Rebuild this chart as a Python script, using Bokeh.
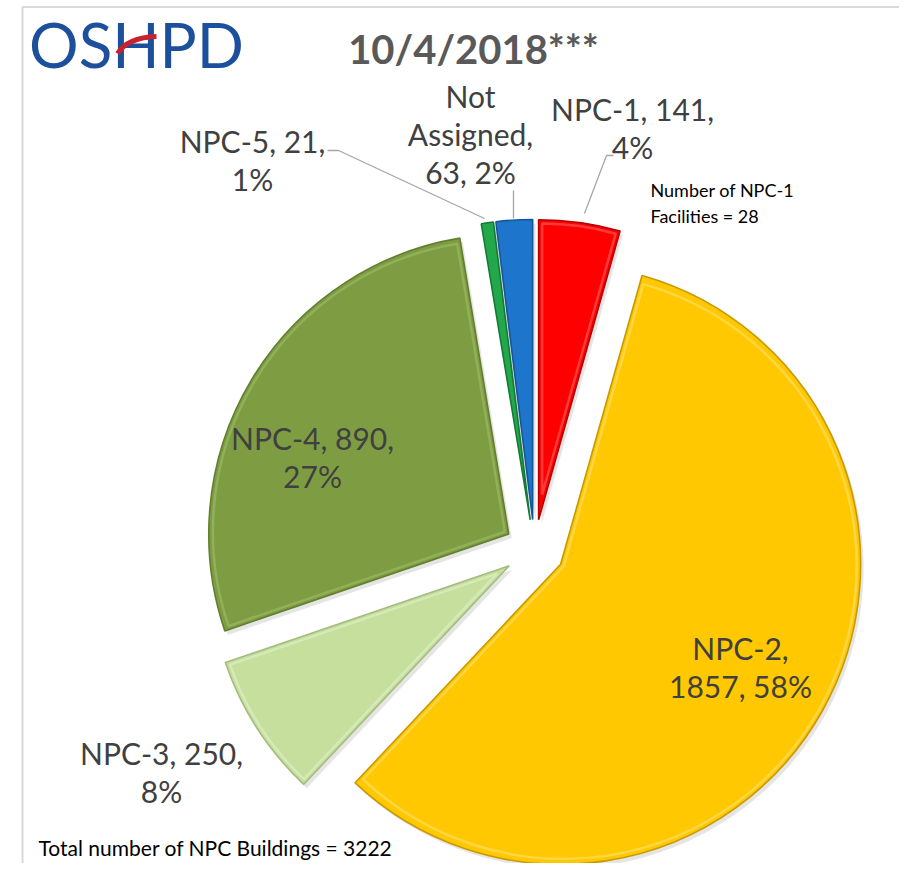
import numpy as np
from bokeh.plotting import figure
from bokeh.models import Range1d
from bokeh.core.properties import value
from bokeh.embed import file_html
from bokeh.resources import INLINE

# ---------------- data ----------------
categories = ["NPC-1", "NPC-2", "NPC-3", "NPC-4", "NPC-5", "Not Assigned"]
counts = [141, 1857, 250, 890, 21, 63]
percent_labels = ["4%", "58%", "8%", "27%", "1%", "2%"]
title_text = "10/4/2018***"
logo_text = "OSHPD"
total_note = "Total number of NPC Buildings = 3222"
npc1_note = ["Number of NPC-1", "Facilities = 28"]

# ---------------- styles ----------------
colors = ["#FF0000", "#FFC800", "#C6DF9D", "#7E9D43", "#22A84A", "#1D76CC"]
edge_colors = ["#B80000", "#C99A00", "#A3BD7E", "#627F2E", "#157A38", "#15569A"]
light_colors = ["#FF6A6A", "#FFE27A", "#E4F1CF", "#A2BE6C", "#6FD08C", "#6AA9E8"]
label_color = "#404040"
FONT = "Lato"

W, H = 899, 863


def Y(py):
    """picture pixel row -> data y"""
    return H - py


p = figure(width=W, height=H, output_backend="svg", toolbar_location=None,
           x_range=Range1d(0, W), y_range=Range1d(0, H),
           min_border=0, outline_line_color=None)
p.axis.visible = False
p.grid.visible = False
p.background_fill_color = "white"

# frame lines (light grey box edges)
p.line([22, 22], [Y(6), Y(879)], line_color="#D9D9D9", line_width=2)
p.line([22, 915], [Y(6.5), Y(6.5)], line_color="#D9D9D9", line_width=2)

# ---------------- pie geometry ----------------
cx, cy = 534, Y(549)
radius = 300
explode = 30
total = float(sum(counts))
fr = np.array(counts) / total
ends = np.cumsum(fr) * 360.0
starts = ends - fr * 360.0
mids = (starts + ends) / 2.0
ux, uy = np.sin(np.radians(mids)), np.cos(np.radians(mids))
vx = cx + explode * ux
vy = cy + explode * uy
a_start = 90.0 - ends
a_end = 90.0 - starts

# soft shadow
p.wedge(x=vx + 3, y=vy - 4, radius=radius, start_angle=a_start, end_angle=a_end,
        start_angle_units="deg", end_angle_units="deg",
        fill_color="#000000", fill_alpha=0.10, line_color=None)
# slices
p.wedge(x=vx, y=vy, radius=radius, start_angle=a_start, end_angle=a_end,
        start_angle_units="deg", end_angle_units="deg",
        fill_color=colors, line_color=edge_colors, line_width=1.6)

# bevel highlight (inner lighter outline) for the wider slices
half = np.radians(fr * 360.0 / 2.0)
d = 3.5
mask = half > np.radians(5)
shift = d / np.sin(half[mask])
p.wedge(x=vx[mask] + shift * ux[mask], y=vy[mask] + shift * uy[mask],
        radius=radius - d - shift, start_angle=a_start[mask], end_angle=a_end[mask],
        start_angle_units="deg", end_angle_units="deg",
        fill_color=None, line_color=list(np.array(light_colors)[mask]),
        line_width=2.5, line_alpha=0.55)

# ---------------- labels ----------------
lab_lines = [
    [f"{categories[0]}, {counts[0]},", percent_labels[0]],
    [f"{categories[1]},", f"{counts[1]}, {percent_labels[1]}"],
    [f"{categories[2]}, {counts[2]},", percent_labels[2]],
    [f"{categories[3]}, {counts[3]},", percent_labels[3]],
    [f"{categories[4]}, {counts[4]},", percent_labels[4]],
    ["Not", "Assigned,", f"{counts[5]}, {percent_labels[5]}"],
]
lab_x = [632, 740, 161, 312, 252, 470]
lab_y0 = [108, 647, 752, 437, 140, 95]
line_step = 38

tx, ty, tt = [], [], []
for lines, x0, y0 in zip(lab_lines, lab_x, lab_y0):
    for k, s in enumerate(lines):
        tx.append(x0)
        ty.append(Y(y0 + k * line_step))
        tt.append(s)
p.text(x=tx, y=ty, text=tt, text_font=value(FONT), text_font_size="30px",
       text_color=label_color, text_align="center", text_baseline="middle")

# leader lines
leader_x = [[327, 338, 484], [513, 513], [613, 606, 584]]
leader_y = [[Y(150), Y(150), Y(218)], [Y(190), Y(218)], [Y(155), Y(155), Y(213)]]
p.multi_line(leader_x, leader_y, line_color="#A6A6A6", line_width=1.3)

# notes
p.text(x=[650, 650], y=[Y(189), Y(215)], text=npc1_note, text_font=value(FONT),
       text_font_size="18px", text_color="#000000", text_align="left",
       text_baseline="middle")
p.text(x=[38], y=[Y(847)], text=[total_note], text_font=value(FONT),
       text_font_size="21px", text_color="#000000", text_align="left",
       text_baseline="middle")

# title
p.text(x=[473], y=[Y(48)], text=[title_text], text_font=value(FONT),
       text_font_size="40px", text_font_style="bold", text_color="#595959",
       text_align="center", text_baseline="middle")

# logo
p.text(x=[136], y=[Y(43)], text=[logo_text], text_font=value(FONT),
       text_font_size="62px", text_color="#1C4F9C", text_align="center",
       text_baseline="middle")
p.quadratic(x0=[117], y0=[Y(53)], cx=[127], cy=[Y(37)], x1=[156], y1=[Y(36)],
            line_color="#C8232C", line_width=5)

open("out.html", "w").write(file_html(p, INLINE))
